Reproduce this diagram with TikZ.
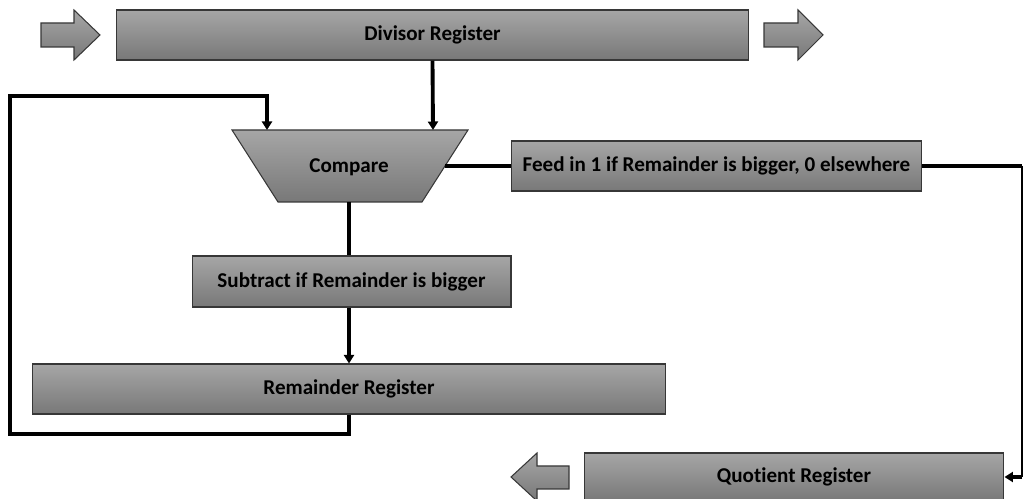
\documentclass[tikz,border=0pt]{standalone}
\usepackage{fontspec}
\setmainfont[Ligatures=NoCommon]{Carlito}
\usetikzlibrary{arrows.meta}
\definecolor{boxtop}{RGB}{166,166,166}
\definecolor{boxbot}{RGB}{120,120,120}
\definecolor{boxedge}{RGB}{55,55,55}
\tikzset{
  shadedfill/.style={top color=boxtop,bottom color=boxbot,draw=boxedge,line width=0.6pt},
  reg/.style={shadedfill,rectangle,inner sep=0pt,font=\fontsize{12}{14}\selectfont\bfseries},
  label/.style={inner sep=0pt,font=\fontsize{12}{14}\selectfont\bfseries},
  wire/.style={line width=2.2pt},
  thinwire/.style={line width=0.7pt},
  flow/.style={wire,-{Triangle[length=0.17cm,width=0.2cm]}},
}
\begin{document}
\begin{tikzpicture}[x=0.02cm,y=-0.02cm]
\useasboundingbox (0,0) rectangle (1028,499);

% registers and processing boxes
\node[reg,minimum width=12.66cm,minimum height=1.0cm] (div) at (432.5,35) {Divisor Register};
\node[reg,minimum width=6.38cm,minimum height=1.02cm] (sub) at (351.5,281.5) {Subtract if Remainder is bigger};
\node[reg,minimum width=12.68cm,minimum height=1.0cm] (rem) at (349,389) {Remainder Register};
\node[reg,minimum width=8.22cm,minimum height=1.0cm] (feed) at (716.5,166) {Feed in 1 if Remainder is bigger, 0 elsewhere};
\node[reg,minimum width=8.4cm,minimum height=0.96cm] (quo) at (794,477) {Quotient Register};

% comparator (trapezoid)
\path[shadedfill] (232,130) -- (468,130) -- (422,202) -- (278,202) -- cycle;
\node[label] (cmp) at (349,167) {Compare};
\coordinate (cmpA) at (433,130);
\coordinate (cmpB) at (267,130);
\coordinate (cmpout) at (349,202);
\coordinate (cmpR) at (445,166);

% block arrows
\path[shadedfill] (41,23) -- (74,23) -- (74,10) -- (100,35) -- (74,60) -- (74,47) -- (41,47) -- cycle;
\path[shadedfill] (764,23) -- (798,23) -- (798,10) -- (823,35) -- (798,60) -- (798,47) -- (764,47) -- cycle;
\path[shadedfill] (569,466) -- (537,466) -- (537,453) -- (511,477) -- (537,501) -- (537,489) -- (569,489) -- cycle;

% connectors
\coordinate (loopBL) at (10,434);
\coordinate (loopTL) at (10,96);
\coordinate (tapR) at (1022,166);
\coordinate (tapB) at (1022,477);

\draw[flow] (div.south) -- (cmpA);
\draw[wire] (cmpout) -- (cmpout |- sub.north);
\draw[flow] (cmpout |- sub.south) -- (cmpout |- rem.north);
\draw[flow] (cmpout |- rem.south) |- (loopBL) -- (loopTL) -| (cmpB);
\draw[wire] (cmpR) -- (feed.west);
\draw[wire] (feed.east) -- (tapR);
\draw[thinwire] (tapR) -- (tapB);
\draw[flow] (tapB) -- (quo.east);
\end{tikzpicture}
\end{document}
